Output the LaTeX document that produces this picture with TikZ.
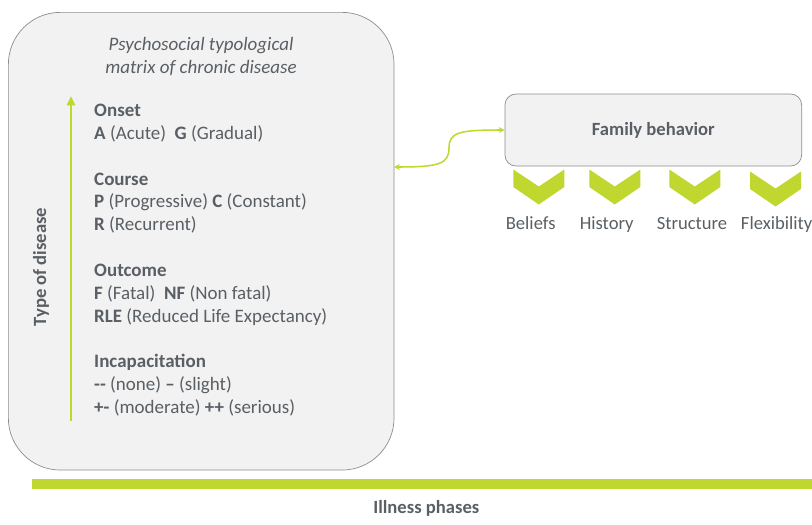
\documentclass[tikz,border=0pt]{standalone}
\usepackage{fontspec}
\setmainfont{Carlito}
\usetikzlibrary{arrows.meta}
\definecolor{leaf}{HTML}{C0D72F}
\definecolor{ink}{HTML}{595F64}
\definecolor{panel}{HTML}{F2F2F2}
\definecolor{rim}{HTML}{8E8E8E}
\newcommand\bodyfont{\fontsize{15.9}{19.5}\selectfont}
\newcommand\listfont{\fontsize{16.2}{19.5}\selectfont}

\begin{document}
\begin{tikzpicture}[x=0.03cm,y=-0.03cm,
  txt/.style={text=ink,font=\bodyfont,inner sep=0pt},
  panelbox/.style={draw=rim,fill=panel,line width=0.6pt},
  tip/.tip={Stealth[length=5pt,width=5pt]}]
\useasboundingbox (0,0) rectangle (812,524);
\node[panelbox,rounded corners=1.56cm,minimum width=11.57cm,minimum height=13.73cm] (typ) at (201.2,241.2) {};
\node[panelbox,rounded corners=0.33cm,minimum width=8.9cm,minimum height=2.16cm,txt,font=\bodyfont\bfseries] (fam) at (653.3,130) {Family behavior};
% multi-line nodes sit on the baseline of their last line
\node[txt,font=\listfont\itshape,align=center,anchor=base] (title) at (201,73) {Psychosocial typological\\matrix of chronic disease};
\node[txt,font=\bodyfont\bfseries,rotate=90] (axis) at (41,267) {Type of disease};
\node[txt,font=\listfont,align=left,anchor=base west] (types) at (94,413.5) {\textbf{Onset}\\
  \textbf{A} (Acute)\ \ \textbf{G} (Gradual)\\[19.5pt]
  \textbf{Course}\\
  \textbf{P} (Progressive) \textbf{C} (Constant)\\
  \textbf{R} (Recurrent)\\[19.5pt]
  \textbf{Outcome}\\
  \textbf{F} (Fatal)\ \ \textbf{NF} (Non fatal)\\
  \textbf{RLE} (Reduced Life Expectancy)\\[19.5pt]
  \textbf{Incapacitation}\\
  \textbf{-{}-} (none) \textbf{--} (slight)\\
  \textbf{+-} (moderate) \textbf{++} (serious)};
\coordinate (up0) at (71,421); \coordinate (up1) at (71,96);
\draw[leaf,line width=2.5pt,-{Triangle[length=8pt,width=7pt]}] (up0) -- (up1);
\coordinate (link) at (394,167); \coordinate (bend) at (449,148);
\draw[leaf,line width=1.3pt,tip-tip] (link) .. controls +(45,0) and +(0,16) .. (bend) .. controls +(0,-16) and +(-45,0) .. (fam.west);
\foreach \x/\y in {513.3/169.5,589.3/169.5,669.3/169.5,750/171.5}
  \fill[leaf] (\x,\y) -- ++(25.5,17) -- ++(25.5,-17) -- ++(0,17.5) -- ++(-25.5,17.5) -- ++(-25.5,-17.5) -- cycle;
\foreach \x/\l in {530.7/Beliefs,606.7/History,692/Structure,776.7/Flexibility} \node[txt,anchor=base] (\l) at (\x,229) {\l};
\fill[leaf] (31.7,478.7) rectangle (812,489.3);
\node[txt,font=\bodyfont\bfseries,anchor=base] (phases) at (426.3,513.3) {Illness phases};
\end{tikzpicture}
\end{document}
